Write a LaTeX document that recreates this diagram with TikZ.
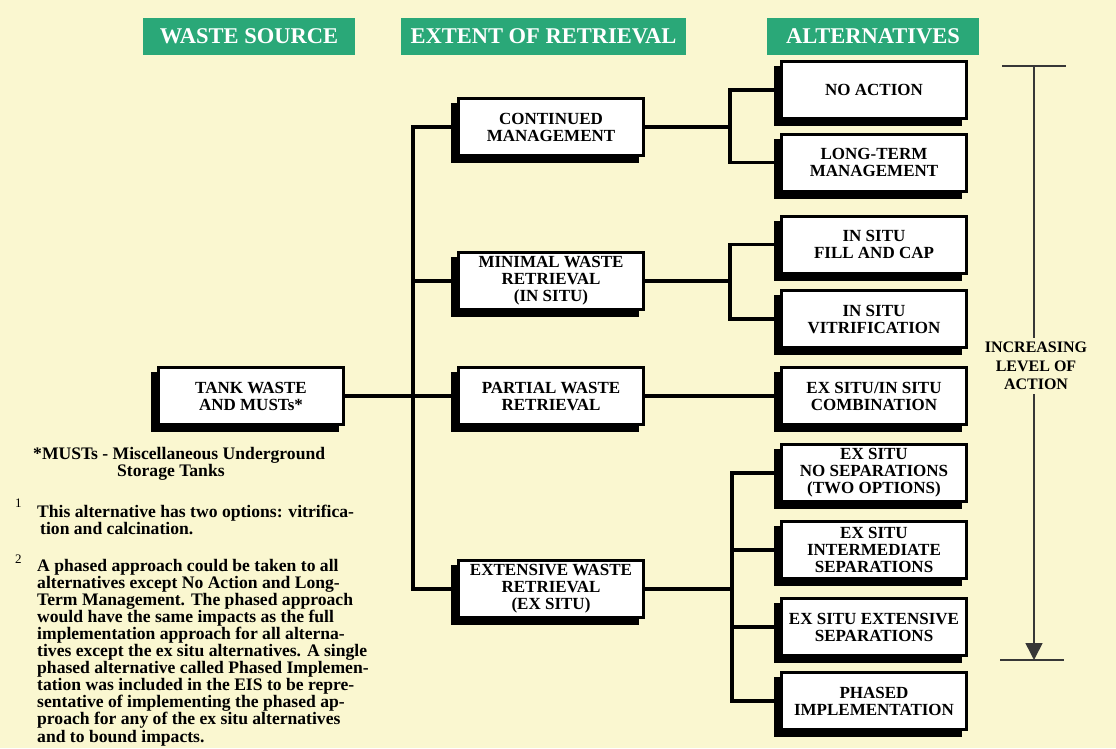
\documentclass[tikz,border=0pt]{standalone}
\usepackage{fontspec}
\setmainfont{Liberation Serif}
\usetikzlibrary{shadows,arrows.meta}
\definecolor{paper}{RGB}{250,247,208}
\definecolor{band}{RGB}{42,168,120}
\definecolor{scalegray}{RGB}{55,55,55}
\begin{document}
\begin{tikzpicture}[x=1pt,y=-1pt,
  box/.style={draw=black, line width=3pt, fill=white,
    minimum width=185pt, minimum height=57pt, inner sep=0pt, align=center,
    font=\fontsize{17}{17}\selectfont\bfseries,
    general shadow={fill=black, draw=black, line width=3pt,
      shadow xshift=-6pt, shadow yshift=-6pt}},
  head/.style={fill=band, text=white, inner sep=0pt, minimum height=37pt,
    font=\fontsize{22.5}{24}\selectfont\bfseries},
  conn/.style={line width=3.5pt, black},
  note/.style={anchor=base west, inner sep=0pt,
    font=\fontsize{17.6}{17.5}\selectfont\bfseries},
  supmark/.style={anchor=base west, inner sep=0pt, font=\fontsize{13}{13}\selectfont},
  scaleline/.style={line width=1.5pt, scalegray},
  lvlbox/.style={align=center, inner sep=4pt,
    font=\fontsize{16}{18.5}\selectfont\bfseries}
]
% page and background
\fill[paper] (0,0) rectangle (1116,748);
\useasboundingbox (0,0) rectangle (1116,748);

% column headings
\node[head, minimum width=212pt] (h1) at (249,36.5) {WASTE SOURCE};
\node[head, minimum width=285pt] (h2) at (543.5,36.5) {EXTENT OF RETRIEVAL};
\node[head, minimum width=212pt] (h3) at (873,36.5) {ALTERNATIVES};

% waste source
\node[box] (tank) at (251,396) {TANK WASTE\\AND MUSTs*};

% extent of retrieval
\node[box] (cont) at (551,127) {CONTINUED\\MANAGEMENT};
\node[box] (mini) at (551,281) {MINIMAL WASTE\\RETRIEVAL\\(IN SITU)};
\node[box] (part) at (551,396) {PARTIAL WASTE\\RETRIEVAL};
\node[box] (ext)  at (551,589) {EXTENSIVE WASTE\\RETRIEVAL\\(EX SITU)};

% alternatives
\node[box] (noact)  at (874,90)  {NO ACTION};
\node[box] (ltm)    at (874,162.5) {LONG-TERM\\MANAGEMENT};
\node[box] (fill)   at (874,244.5) {IN SITU\\FILL AND CAP};
\node[box] (vit)    at (874,319) {IN SITU\\VITRIFICATION};
\node[box] (comb)   at (874,396) {EX SITU/IN SITU\\COMBINATION};
\node[box] (nosep)  at (874,473) {EX SITU\\NO SEPARATIONS\\(TWO OPTIONS)};
\node[box] (inter)  at (874,550) {EX SITU\\INTERMEDIATE\\SEPARATIONS};
\node[box] (exsep)  at (874,627) {EX SITU EXTENSIVE\\SEPARATIONS};
\node[box] (phased) at (874,701) {PHASED\\IMPLEMENTATION};

% tree connectors
\coordinate (trunk) at (413,0);
\coordinate (ja) at (730,0);
\coordinate (jb) at (732,0);
\draw[conn] (tank.east) -- (part.west);
\draw[conn] (cont.west) -| (trunk |- ext.west) -- (ext.west);
\draw[conn] (trunk |- mini.west) -- (mini.west);
\draw[conn] (cont.east) -- (ja |- cont.east);
\draw[conn] (noact.west) -| (ja |- cont.east) |- (ltm.west);
\draw[conn] (mini.east) -- (ja |- mini.east);
\draw[conn] (fill.west) -| (ja |- mini.east) |- (vit.west);
\draw[conn] (part.east) -- (comb.west);
\draw[conn] (ext.east) -- (jb |- ext.east);
\draw[conn] (nosep.west) -| (jb |- phased.west) -- (phased.west);
\draw[conn] (jb |- inter.west) -- (inter.west);
\draw[conn] (jb |- exsep.west) -- (exsep.west);

% level-of-action scale
\coordinate (atop) at (1034,66);
\coordinate (abot) at (1034,660);
\coordinate (tl1) at (1002,66);
\coordinate (tr1) at (1066,66);
\coordinate (tl2) at (1000,660);
\coordinate (tr2) at (1064,660);
\node[lvlbox] (lvl) at (1036,366) {INCREASING\\LEVEL OF\\ACTION};
\draw[scaleline] (tl1) -- (tr1);
\draw[scaleline] (tl2) -- (tr2);
\draw[scaleline] (atop) -- (atop |- lvl.north);
\draw[scaleline, -{Triangle[length=17pt,width=17pt]}] (abot |- lvl.south) -- (abot);

% footnotes
\node[note] (m1) at (33,459) {*MUSTs - Miscellaneous Underground};
\node[note] (m2) at (117,476.5) {Storage Tanks};

\node[supmark] (s1) at (15,507) {1};
\node[note] (f1a) at (37,517) {This alternative has two options: vitrifica-};
\node[note] (f1b) at (40,534.5) {tion and calcination.};

\node[supmark] (s2) at (15,563) {2};
\foreach \t [count=\i] in {%
  {A phased approach could be taken to all},
  {alternatives except No Action and Long-},
  {Term Management. The phased approach},
  {would have the same impacts as the full},
  {implementation approach for all alterna-},
  {tives except the ex situ alternatives. A single},
  {phased alternative called Phased Implemen-},
  {tation was included in the EIS to be repre-},
  {sentative of implementing the phased ap-},
  {proach for any of the ex situ alternatives},
  {and to bound impacts.}}
  \node[note] (f2-\i) at (37,571+17.1*\i-17.1) {\t};
\end{tikzpicture}
\end{document}
